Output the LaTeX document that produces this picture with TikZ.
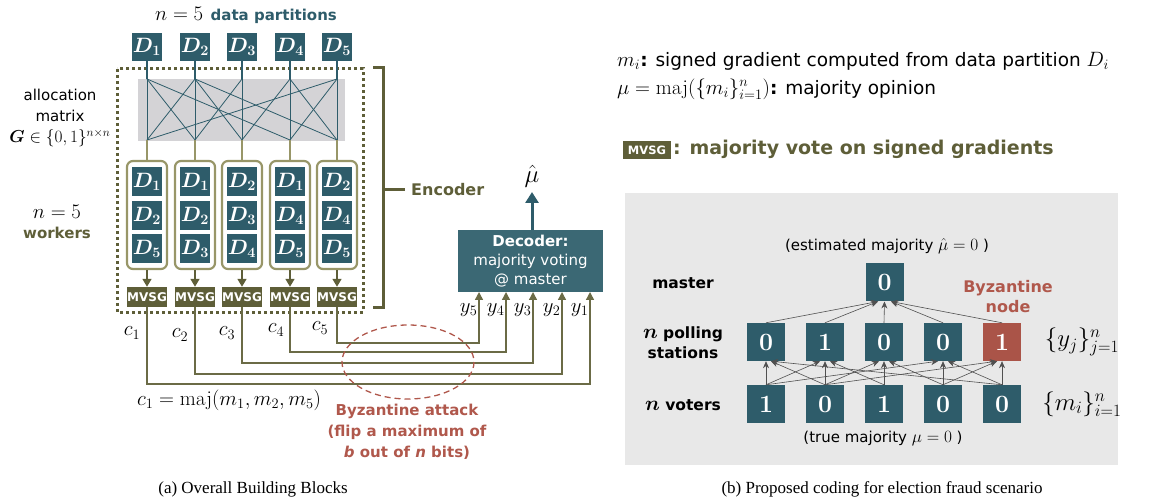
\documentclass[tikz,border=0pt]{standalone}
\usepackage[no-math]{fontspec}
\usepackage{amsmath,bm}
\setmainfont{DejaVu Sans}
\newfontfamily\capfont{Liberation Serif}
\usetikzlibrary{arrows.meta}
\definecolor{tealA}{RGB}{46,92,106}
\definecolor{tealB}{RGB}{59,104,116}
\definecolor{oliveA}{RGB}{94,94,56}
\definecolor{oliveL}{RGB}{107,107,70}
\definecolor{oliveW}{RGB}{152,150,104}
\definecolor{redA}{RGB}{176,88,76}
\definecolor{redB}{RGB}{170,84,72}
\definecolor{panelgray}{RGB}{232,232,232}
\definecolor{allocgray}{RGB}{212,211,214}
\definecolor{arrgray}{RGB}{80,80,80}
\newcommand\fsz[2]{\fontsize{#1}{#2}\selectfont}
\newcommand\M[2]{{\fontsize{#1}{#1}\selectfont$#2$}}
\tikzset{
  dbox/.style={fill=tealA, text=white, minimum width=30, minimum height=28, inner sep=0, font=\fsz{20}{22}},
  dsmall/.style={fill=tealA, text=white, minimum width=30, minimum height=29, inner sep=0, font=\fsz{20}{22}},
  wbox/.style={draw=oliveW, line width=2.2, rounded corners=6, fill=white, minimum width=40, minimum height=108, inner sep=0},
  mvsg/.style={fill=oliveA, text=white, minimum width=40, minimum height=20, inner sep=0, font=\fsz{12}{14}\bfseries},
  oarrow/.style={draw=oliveA, line width=1.5, -{Triangle[length=8,width=9]}},
  wire/.style={draw=oliveL, line width=1.4, -{Triangle[length=8,width=8]}},
  alloc/.style={draw=tealA, line width=0.8},
  pbox/.style={fill=tealA, text=white, minimum width=38, minimum height=38, inner sep=0, font=\fsz{26}{28}},
  parr/.style={draw=arrgray, line width=0.6, -{Stealth[length=7,width=6]}},
}
\begin{document}
\begin{tikzpicture}[x=1pt,y=-1pt]
\useasboundingbox (0,0) rectangle (1166,502);

% ---------- part (a) ----------
\node[font=\fsz{15}{20}, inner sep=0] (title) at (246,15) {\M{22}{n=5}\enspace\textcolor{tealA}{\bfseries data partitions}};

% allocation background
\fill[allocgray] (138,79) rectangle (345,141);

% top data boxes
\foreach \i/\x in {1/147,2/195,3/242,4/290,5/337}{
  \node[dbox] (d\i) at (\x,47) {$\bm{D_{\i}}$};
  \coordinate (t\i) at (\x,79);
  \coordinate (b\i) at (\x,140);
}
% dotted encoder box
\draw[oliveA, line width=3, dash pattern=on 3pt off 3pt] (117,69) rectangle (363,312);

\foreach \i in {1,...,5}{
  \draw[tealA, line width=1.6] (d\i.south) -- (t\i);
}
% allocation lines: data i -> worker j
\foreach \i/\j in {1/1,1/2,1/4,2/1,2/2,2/3,2/5,3/2,3/3,4/3,4/4,4/5,5/1,5/4,5/5}{
  \draw[alloc] (t\i) -- (b\j);
}

% workers
\foreach \j/\x/\a/\b/\c in {1/147/1/2/5,2/195/1/2/3,3/242/2/3/4,4/290/1/4/5,5/337/2/4/5}{
  \node[wbox] (w\j) at (\x,215) {};
  \draw[oliveW, line width=1.8] (b\j) -- (w\j.north);
  \node[dsmall] (w\j a) at (\x,182) {$\bm{D_{\a}}$};
  \node[dsmall] (w\j b) at (\x,215.5) {$\bm{D_{\b}}$};
  \node[dsmall] (w\j c) at (\x,248.5) {$\bm{D_{\c}}$};
  \node[mvsg] (m\j) at (\x,297) {MVSG};
  \draw[oarrow] (w\j.south) -- (m\j.north);
}

% encoder bracket
\coordinate (brt) at (383,68);
\coordinate (brb) at (383,308);
\coordinate (brm) at (383,190);
\draw[oliveA, line width=3] (373,68) -- (brt) -- (brb) -- (373,308);
\draw[oliveA, line width=3] (brm) -- (405,190);
\node[anchor=west, text=oliveA, font=\fsz{16}{20}\bfseries, inner sep=0] (enc) at (411,190) {Encoder};

% left labels
\node[align=center, font=\fsz{15}{21}, inner sep=0] (allocl) at (60,118) {allocation\\matrix\\\M{18}{\bm{G}\in\{0,1\}^{n\times n}}};
\node[font=\fsz{21}{22}, inner sep=0] (nw) at (57,212) {$n=5$};
\node[font=\fsz{15}{18}\bfseries, text=oliveA, inner sep=0] (wk) at (57,233) {workers};

% decoder
\node[fill=tealB, text=white, minimum width=145, minimum height=62, inner sep=0, align=center, font=\fsz{15}{19}] (dec) at (530.5,261) {\bfseries Decoder:\\majority voting\\@ master};
\coordinate (mutop) at (532,192);
\node[font=\fsz{24}{26}, inner sep=0] (muhat) at (532,176) {$\hat{\mu}$};
\draw[tealA, line width=3, -{Triangle[length=11,width=13]}] (dec.north -| mutop) -- (mutop);

% wires c_i -> y_i
\foreach \i/\x/\hy/\ix in {1/147/384/590,2/195/374/562,3/242/363/533,4/290/352/506,5/337/343/479}{
  \coordinate (in\i) at (\ix,292);
  \coordinate (h\i) at (\ix,\hy);
  \draw[wire] (m\i.south) |- (h\i) -- (in\i);
}
\foreach \i/\ix in {1/590,2/562,3/533,4/506,5/479}{
  \node[anchor=east, font=\fsz{21}{22}, inner sep=1.5] (y\i) at (\ix,310) {$y_{\i}$};
}
\foreach \i/\x/\y in {1/132/333,2/180/335,3/227/333,4/276/330,5/320/328}{
  \node[font=\fsz{21}{22}, inner sep=0] (c\i) at (\x,\y) {$c_{\i}$};
}
\node[font=\fsz{21}{22}, inner sep=0] (c1eq) at (229,400) {$c_1=\mathrm{maj}(m_1,m_2,m_5)$};

% Byzantine attack
\draw[redA, line width=1.3, dash pattern=on 6pt off 4pt] (408,362) ellipse [x radius=66, y radius=37];
\node[align=center, text=redA, font=\fsz{15}{21}\bfseries, inner sep=0] (byz) at (407,432) {Byzantine attack\\(flip a maximum of\\\textit{b} out of \textit{n} bits)};

\node[font=\capfont\fsz{17}{20}, inner sep=0] (capa) at (253,489) {(a) Overall Building Blocks};

% ---------- part (b) ----------
\node[anchor=west, font=\fsz{18.5}{20}, inner sep=0] (l1) at (617,61) {\M{21}{m_i}\textbf{:} signed gradient computed from data partition \M{21}{D_i}};
\node[anchor=west, font=\fsz{18.5}{20}, inner sep=0] (l2) at (617,89) {\M{21}{\mu=\mathrm{maj}(\{m_i\}_{i=1}^n)}\textbf{:} majority opinion};
\node[fill=oliveA, text=white, minimum width=48, minimum height=18, inner sep=0, font=\fsz{11.5}{14}\bfseries] (leg) at (647,150) {MVSG};
\node[anchor=west, text=oliveA, font=\fsz{19}{22}\bfseries, inner sep=0] (legt) at (673,149) {: majority vote on signed gradients};

\fill[panelgray] (625,193) rectangle (1118,465);

\node[pbox] (ms) at (884.5,282.5) {$\mathbf{0}$};
\foreach \j/\x/\v in {1/766/0,2/825/1,3/884/0,4/943/0}{
  \node[pbox] (p\j) at (\x,342) {$\mathbf{\v}$};
}
\node[pbox, fill=redB] (p5) at (1002,342) {$\mathbf{1}$};
\foreach \i/\x/\v in {1/766/1,2/825/0,3/884/1,4/943/0,5/1002/0}{
  \node[pbox] (v\i) at (\x,404) {$\mathbf{\v}$};
}
% polling -> master
\coordinate (msl) at (878,301.5);
\coordinate (msc) at (884.5,301.5);
\coordinate (msr) at (891,301.5);
\draw[parr] (p1.north) -- (msl);
\draw[parr] (p2.north) -- (msl);
\draw[parr] (p3.north) -- (msc);
\draw[parr] (p4.north) -- (msr);
\draw[parr] (p5.north) -- (msr);
% voters -> polling
\foreach \i/\j in {1/1,2/1,5/1,1/2,2/2,3/2,2/3,3/3,4/3,1/4,4/4,5/4,2/5,4/5,5/5}{
  \pgfmathsetmacro\off{ifthenelse(\i<\j,-5,ifthenelse(\i>\j,5,0))}
  \draw[parr] (v\i.north) -- ([xshift=\off pt]p\j.south);
}

\node[font=\fsz{15.5}{20}\bfseries, inner sep=0] (lm) at (683,283) {master};
\node[align=center, font=\fsz{15.5}{20}\bfseries, inner sep=0] (lp) at (683,343) {\M{20}{\bm{n}} polling\\stations};
\node[font=\fsz{15.5}{20}\bfseries, inner sep=0] (lv) at (683,405) {\M{20}{\bm{n}} voters};
\node[font=\fsz{15}{18}, inner sep=0] (est) at (887,246) {(estimated majority \M{18}{\hat{\mu}=0} )};
\node[font=\fsz{15}{18}, inner sep=0] (tru) at (883,438) {(true majority \M{18}{\mu=0} )};
\node[align=center, text=redA, font=\fsz{16}{20}\bfseries, inner sep=0] (byzn) at (1008,297) {Byzantine\\node};
\node[font=\fsz{24}{26}, inner sep=0] (yset) at (1082,342) {$\{y_j\}_{j=1}^n$};
\node[font=\fsz{24}{26}, inner sep=0] (mset) at (1082,404) {$\{m_i\}_{i=1}^n$};

\node[font=\capfont\fsz{17}{20}, inner sep=0] (capb) at (882,489) {(b) Proposed coding for election fraud scenario};
\end{tikzpicture}
\end{document}
